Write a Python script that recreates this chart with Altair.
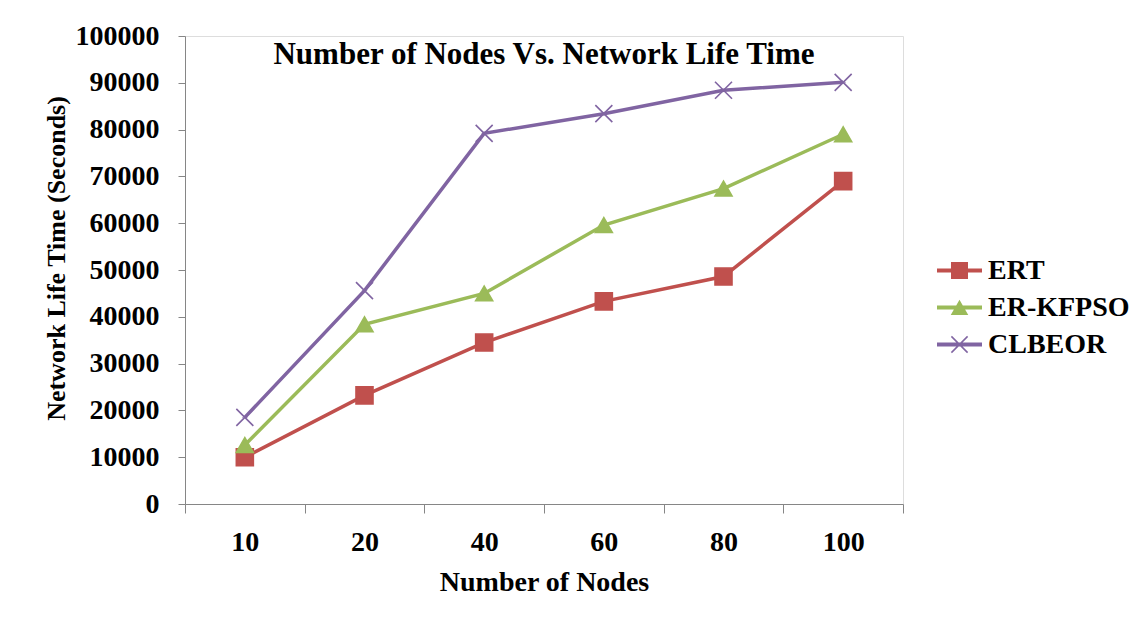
import altair as alt
import pandas as pd

nodes = ["10", "20", "40", "60", "80", "100"]
series_names = ["ERT", "ER-KFPSO", "CLBEOR"]
ert = [10000, 23200, 34500, 43300, 48600, 69000]
er_kfpso = [12600, 38400, 45000, 59600, 67400, 79000]
clbeor = [18500, 45600, 79200, 83400, 88400, 90100]
y_ticks = [0, 10000, 20000, 30000, 40000, 50000, 60000, 70000, 80000, 90000, 100000]

colors = ["#C0504D", "#9BBB59", "#8064A2"]

rows = []
for name, vals in zip(series_names, [ert, er_kfpso, clbeor]):
    for n, v in zip(nodes, vals):
        rows.append({"nodes": n, "life": v, "series": name})
df = pd.DataFrame(rows)

FONT = "Liberation Serif"
AXIS_COLOR = "#868686"

# marker shapes in the plot
marker_shapes = ["square", "triangle-up", "M-1,-1L1,1M-1,1L1,-1"]
# legend symbols: line segment + marker
leg_line = "M-1,-0.089H1V0.089H-1Z"
legend_shapes = [
    leg_line + " M-0.378,-0.378H0.378V0.378H-0.378Z",
    leg_line + " M0,-0.34L0.39,0.33H-0.39Z",
    leg_line
    + " M-0.384,-0.336L-0.336,-0.384L0.384,0.336L0.336,0.384Z"
    + " M-0.384,0.336L0.336,-0.384L0.384,-0.336L-0.336,0.384Z",
]

x_enc = alt.X(
    "nodes:N",
    sort=nodes,
    scale=alt.Scale(type="band", paddingInner=0, paddingOuter=0),
    axis=alt.Axis(
        title="Number of Nodes",
        labelAngle=0,
        tickBand="extent",
        tickSize=9,
        labelPadding=37,
        labelBaseline="alphabetic",
        labelFont=FONT,
        labelFontSize=28,
        labelFontWeight="bold",
        labelColor="black",
        titleFont=FONT,
        titleFontSize=28,
        titleFontWeight="bold",
        titleColor="black",
        titleBaseline="alphabetic",
        titleY=86,
        domainColor=AXIS_COLOR,
        tickColor=AXIS_COLOR,
        grid=False,
    ),
)
y_enc = alt.Y(
    "life:Q",
    scale=alt.Scale(domain=[0, 100000], nice=False),
    axis=alt.Axis(
        title="Network Life Time (Seconds)",
        values=y_ticks,
        format="d",
        tickSize=7,
        labelPadding=19,
        labelFont=FONT,
        labelFontSize=28,
        labelFontWeight="bold",
        labelColor="black",
        titleFont=FONT,
        titleFontSize=26,
        titleFontWeight="bold",
        titleColor="black",
        titleAngle=270,
        titleAlign="center",
        titleBaseline="middle",
        titleX=-129,
        titleY=222,
        domainColor=AXIS_COLOR,
        tickColor=AXIS_COLOR,
        grid=False,
    ),
)

color_scale = alt.Scale(domain=series_names, range=colors)

leg = alt.Legend(
    title=None,
    orient="none",
    legendX=752,
    legendY=212,
    padding=0,
    symbolSize=2025,
    symbolStrokeWidth=0,
    symbolOpacity=1,
    rowPadding=0,
    labelOffset=6,
    labelFont=FONT,
    labelFontSize=28,
    labelFontWeight="bold",
    labelColor="black",
    labelLimit=300,
)

# drawn first and small, fully hidden under the real markers; provides the legend
legend_layer = alt.Chart(df).mark_point(filled=True, opacity=1).encode(
    x=x_enc,
    y=y_enc,
    fill=alt.Fill("series:N", scale=alt.Scale(domain=series_names, range=colors), legend=leg),
    shape=alt.Shape("series:N", scale=alt.Scale(domain=series_names, range=legend_shapes), legend=leg),
)

lines = alt.Chart(df).mark_line(strokeWidth=3.5).encode(
    x=x_enc,
    y=y_enc,
    color=alt.Color("series:N", scale=color_scale, legend=None),
    detail="series:N",
)

points = alt.Chart(df).mark_point(filled=True, size=289, opacity=1, strokeWidth=1.6).encode(
    x=x_enc,
    y=y_enc,
    color=alt.Color("series:N", scale=color_scale, legend=None),
    stroke=alt.Stroke("series:N", scale=color_scale, legend=None),
    shape=alt.Shape("series:N", scale=alt.Scale(domain=series_names, range=marker_shapes), legend=None),
)

chart = (
    alt.layer(legend_layer, lines, points)
    .resolve_scale(shape="independent", fill="independent")
    .properties(
        width=718,
        height=468,
        title=alt.TitleParams(
            text="Number of Nodes Vs. Network Life Time",
            anchor="middle",
            frame="group",
            baseline="alphabetic",
            offset=-41,
            dy=32,
            font=FONT,
            fontSize=31,
            fontWeight="bold",
            color="black",
        ),
        autosize=alt.AutoSizeParams(type="none"),
        padding={"left": 177, "top": 28, "right": 230, "bottom": 100},
    )
    .configure_view(stroke=None)
    .configure(background="white")
)

chart.save("out.html", embed_options={"renderer": "svg", "actions": False})
